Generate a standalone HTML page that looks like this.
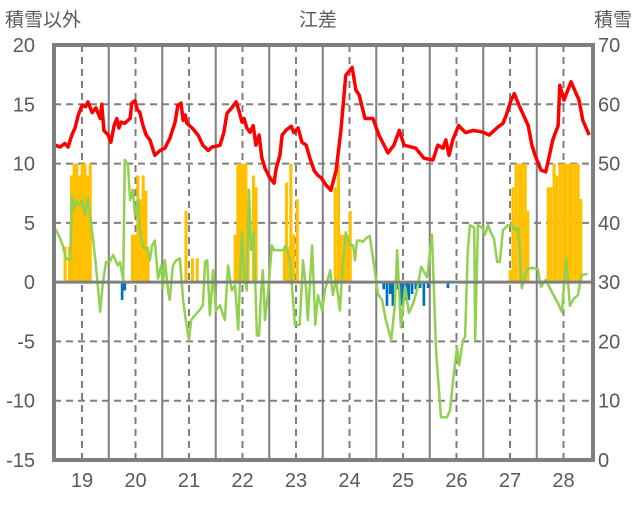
<!DOCTYPE html>
<html><head><meta charset="utf-8"><style>
body{margin:0;background:#fff;}
svg text{font-family:"Liberation Sans","Noto Sans CJK JP",sans-serif;fill:#595959;}
</style></head><body>
<svg id="chart" width="636" height="501" viewBox="0 0 636 501" xmlns="http://www.w3.org/2000/svg">
<text x="5" y="26" font-size="19">積雪以外</text>
<text x="318" y="26" font-size="19" text-anchor="middle">江差</text>
<text x="632" y="26" font-size="19" text-anchor="end">積雪</text>
<g id="grid"></g>
<g id="bars"></g>
<g id="lines"></g>
<g id="axes"></g>
</svg>
<script>
const leftTicks=[20,15,10,5,0,-5,-10,-15];
const rightTicks=[70,60,50,40,30,20,10,0];
const yearLabels=[19,20,21,22,23,24,25,26,27,28];
const redT=[18.50,18.59,18.68,18.74,18.81,18.87,18.93,19.00,19.07,19.11,19.19,19.26,19.34,19.37,19.41,19.49,19.54,19.60,19.65,19.69,19.73,19.80,19.90,19.93,19.99,20.03,20.08,20.14,20.20,20.27,20.36,20.46,20.55,20.64,20.74,20.79,20.85,20.89,20.93,20.96,21.06,21.17,21.26,21.36,21.43,21.50,21.58,21.65,21.71,21.80,21.88,21.93,21.99,22.03,22.08,22.14,22.20,22.25,22.31,22.36,22.42,22.51,22.59,22.63,22.70,22.74,22.81,22.91,22.96,23.04,23.11,23.19,23.26,23.34,23.41,23.47,23.56,23.65,23.75,23.84,23.93,24.05,24.12,24.18,24.29,24.44,24.55,24.72,24.83,24.93,25.02,25.24,25.39,25.56,25.65,25.75,25.80,25.86,25.93,26.04,26.17,26.31,26.50,26.61,26.78,26.87,26.93,27.02,27.08,27.17,27.34,27.41,27.47,27.58,27.67,27.80,27.90,27.93,28.01,28.14,28.29,28.36,28.48];
const redV=[11.55,11.4,11.7,11.4,12.4,13.0,14.1,14.9,14.8,15.2,14.3,14.7,13.8,15.0,12.8,12.4,11.8,13.2,13.8,13.0,13.5,13.4,13.8,15.1,15.3,14.6,14.3,13.2,12.4,12.0,10.7,11.1,11.3,12.1,13.5,14.9,15.1,13.65,14.1,13.4,13.0,12.4,11.55,11.1,11.4,11.45,11.55,12.6,14.25,14.7,15.2,14.5,13.5,13.8,13.0,12.65,13.2,11.55,12.4,10.5,9.6,8.8,8.35,9.6,10.7,12.4,12.8,13.15,12.6,13.0,11.8,11.55,10.45,9.4,9.0,8.8,8.2,7.75,9.4,12.8,17.45,18.1,16.2,15.8,13.8,13.8,12.4,10.9,11.55,12.8,11.55,11.3,10.45,10.3,11.55,11.3,12.0,10.7,12.0,13.2,12.6,12.8,12.65,12.4,13.1,13.4,14.1,15.35,15.9,14.9,13.2,11.55,10.7,9.45,9.3,12.0,13.2,16.6,15.35,16.9,15.35,13.65,12.4];
const greenT=[18.50,18.59,18.64,18.70,18.78,18.81,18.85,18.89,18.94,19.00,19.06,19.11,19.15,19.21,19.26,19.34,19.39,19.45,19.52,19.58,19.67,19.71,19.77,19.80,19.86,19.90,19.95,19.99,20.05,20.08,20.14,20.21,20.27,20.31,20.36,20.42,20.48,20.51,20.55,20.61,20.64,20.70,20.76,20.83,20.89,20.94,21.00,21.04,21.11,21.19,21.26,21.30,21.34,21.39,21.45,21.50,21.58,21.67,21.73,21.80,21.86,21.92,21.95,21.99,22.03,22.08,22.12,22.16,22.21,22.27,22.31,22.35,22.38,22.42,22.48,22.55,22.59,22.66,22.76,22.81,22.89,22.98,23.07,23.13,23.19,23.22,23.30,23.36,23.41,23.49,23.54,23.64,23.69,23.75,23.82,23.88,23.93,24.01,24.07,24.10,24.14,24.20,24.25,24.31,24.38,24.46,24.53,24.61,24.68,24.78,24.85,24.89,24.96,25.04,25.11,25.19,25.26,25.34,25.45,25.54,25.62,25.71,25.82,25.88,25.93,26.01,26.05,26.12,26.16,26.21,26.25,26.33,26.35,26.40,26.48,26.53,26.59,26.64,26.70,26.76,26.81,26.87,26.96,27.04,27.09,27.15,27.19,27.22,27.32,27.41,27.52,27.58,27.67,27.79,27.90,27.97,28.05,28.12,28.19,28.27,28.34,28.45];
const greenV=[4.5,3.7,3.1,2.0,1.85,7.3,6.1,6.9,6.5,6.9,5.7,7.1,5.7,3.5,1.4,-2.5,0,1.7,1.7,2.3,1.4,1.7,0.2,10.3,9.9,6.9,7.8,5.7,6.9,4.4,2.9,2.9,1.85,3.1,3.5,0.3,1.4,-0.5,1.85,-0.7,-1.5,1.4,1.85,2.0,-1.5,-3.2,-4.9,-3.2,-2.8,-2.4,-1.95,1.7,1.85,-2.8,1.0,-2.4,-1.95,-3.2,1.4,-0.7,-0.25,-4.0,-0.25,4.2,0.6,-0.7,7.8,2.7,4.2,-4.5,-4.5,-0.7,1.0,-3.2,-0.7,3.1,2.7,2.7,2.7,3.1,1.7,-3.6,-3.6,1.85,-0.7,-3.2,3.1,-3.6,-1.1,-2.4,-0.7,1.0,-1.1,0.2,-2.4,1.85,4.2,3.1,3.1,1.85,3.5,3.5,3.4,3.7,3.9,1.4,-1.0,-1.5,-3.2,-4.9,-1.8,2.7,-3.8,-0.4,-2.6,-1.8,-0.7,1.3,0.4,4.0,-6,-11.4,-11.4,-10.8,-8.5,-5.5,-7,-4.9,-4.6,2.5,4.8,4.6,-4.9,4.8,4.6,4.0,4.8,4.2,3.7,1.7,1.7,4.4,4.8,4.8,4.4,4.6,2.0,-0.5,1.1,1.2,1.1,-0.4,0.2,-0.9,-1.8,-2.5,2.0,-2.0,-1.4,-1.1,0.6,0.7];
const snowT=[18.68,18.76,18.80,18.85,18.90,18.95,19.00,19.05,19.10,19.15,19.94,19.99,20.04,20.09,20.14,20.19,20.23,20.94,21.06,21.15,21.86,21.91,21.96,22.01,22.06,22.10,22.20,22.25,22.78,22.82,22.87,22.90,22.95,23.02,23.73,23.79,23.84,23.90,23.95,24.01,27.00,27.05,27.11,27.17,27.22,27.28,27.33,27.71,27.76,27.82,27.87,27.93,27.99,28.04,28.10,28.15,28.21,28.27,28.32];
const snowV=[3,3,9,10,10,9,10,10,9,10,4,4,9,7,9,7.7,3,6,2,2,4,10,10,10,10,5,9,8,3,8.4,3,10,4,7,8,10,4,4,4,6,1,8,10,10,10,10,6,8,8,10,9,10,10,10,10,10,10,10,7];
const blueT=[19.75,19.80,21.45,24.64,24.70,24.76,24.81,24.90,24.95,25.00,25.06,25.11,25.17,25.24,25.32,25.39,25.47,25.84];
const blueV=[-1.5,-0.7,-0.4,-0.6,-2.0,-1.0,-2.0,-0.6,-2.0,-2.0,-1.5,-1.5,-1.0,-0.6,-0.5,-2.0,-0.5,-0.5];

const NS='http://www.w3.org/2000/svg';
const L=54,R=593,T=45,B=460;
const xS=t=>82+(t-19)*53.5;
const yS=v=>T+(20-v)*(B-T)/35;
function mk(tag,attrs,parent){const e=document.createElementNS(NS,tag);for(const k in attrs)e.setAttribute(k,attrs[k]);parent.appendChild(e);return e;}
const grid=document.getElementById('grid'),bars=document.getElementById('bars'),lines=document.getElementById('lines'),axes=document.getElementById('axes');
leftTicks.forEach((v,i)=>{
  const y=yS(v);
  if(v!==20&&v!==-15&&v!==0){
    const g=mk('line',{x1:L,x2:R,y1:y,y2:y,stroke:'#7f7f7f','stroke-width':2,'stroke-dasharray':'7,5'},grid);
    
    
  }
  const t=mk('text',{x:35,y:y+7,'font-size':20,'text-anchor':'end'},axes);t.textContent=v;
  
  
  const r=mk('text',{x:598,y:y+7,'font-size':20},axes);r.textContent=rightTicks[i];
  
  
});
yearLabels.forEach(yr=>{
  const x=xS(yr);
  const d=mk('line',{x1:x,x2:x,y1:T,y2:B,stroke:'#7f7f7f','stroke-width':2,'stroke-dasharray':'7,5'},grid);
  
  
  if(yr<28){const s=mk('line',{x1:xS(yr+0.5),x2:xS(yr+0.5),y1:T,y2:B,stroke:'#7f7f7f','stroke-width':2},grid);
  
  }
  const t=mk('text',{x:x,y:487,'font-size':20,'text-anchor':'middle'},axes);t.textContent=yr;
  
  
});
const bw=0.05*53.5;
snowT.forEach((t,i)=>{const y=yS(snowV[i]);
  const r=mk('rect',{x:xS(t)-bw/2,y:y,width:bw+0.4,height:yS(0)-y,fill:'#ffc000'},bars);
  
  });
blueT.forEach((t,i)=>{
  const r=mk('rect',{x:xS(t)-bw/2,y:yS(0),width:bw,height:yS(blueV[i])-yS(0),fill:'#0070c0'},bars);
  
  });
const z=mk('line',{x1:L,x2:R,y1:yS(0),y2:yS(0),stroke:'#7f7f7f','stroke-width':3},axes);


const pts=(ts,vs)=>ts.map((t,i)=>xS(t).toFixed(1)+','+yS(vs[i]).toFixed(1)).join(' ');
const g=mk('polyline',{points:pts(greenT,greenV),fill:'none',stroke:'#92d050','stroke-width':2.5,'stroke-linejoin':'round'},lines);


const rl=mk('polyline',{points:pts(redT,redV),fill:'none',stroke:'#ff0000','stroke-width':3.5,'stroke-linejoin':'round'},lines);


const fr=mk('rect',{x:L,y:T,width:R-L,height:B-T,fill:'none',stroke:'#7f7f7f','stroke-width':4},axes);


</script>
</body></html>
